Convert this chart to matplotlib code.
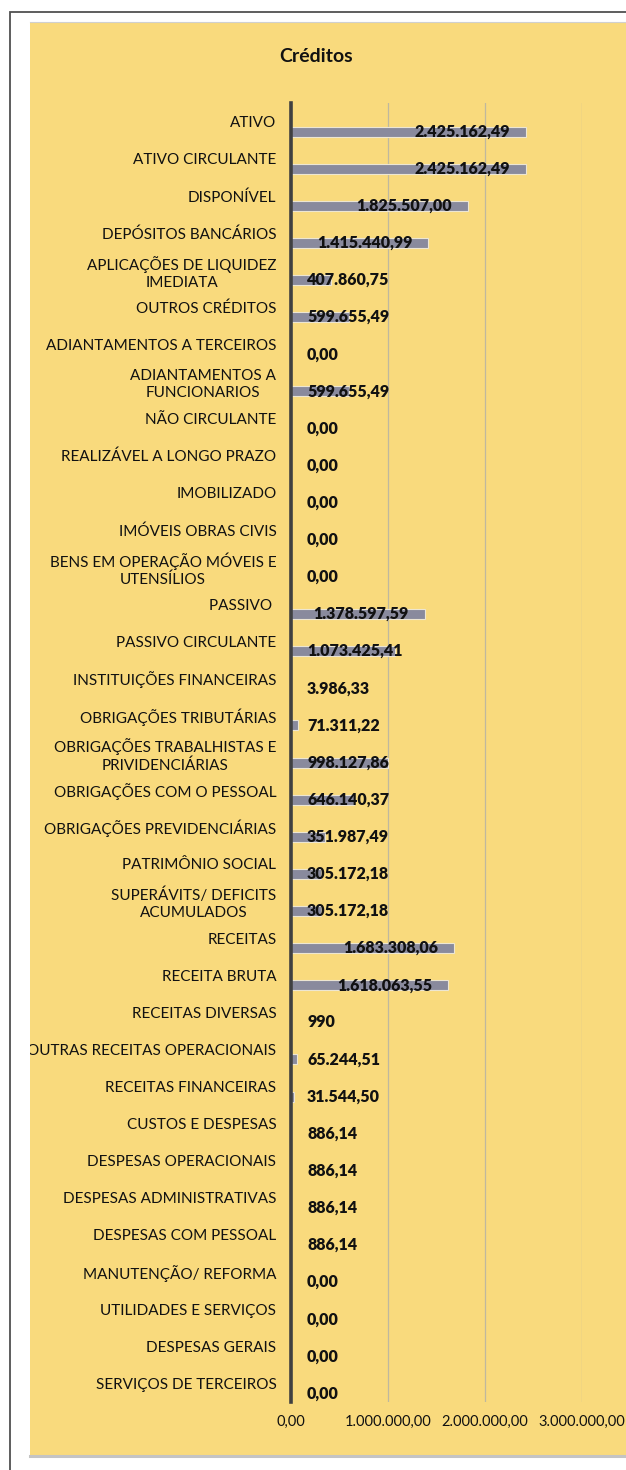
import matplotlib
matplotlib.use("Agg")
import matplotlib.pyplot as plt
from matplotlib.patches import Rectangle
from matplotlib.transforms import offset_copy
from matplotlib.ticker import FixedLocator, FuncFormatter

categories = [
    "ATIVO", "ATIVO CIRCULANTE", "DISPONÍVEL", "DEPÓSITOS BANCÁRIOS",
    "APLICAÇÕES DE LIQUIDEZ\nIMEDIATA", "OUTROS CRÉDITOS",
    "ADIANTAMENTOS A TERCEIROS", "ADIANTAMENTOS A\nFUNCIONARIOS",
    "NÃO CIRCULANTE", "REALIZÁVEL A LONGO PRAZO", "IMOBILIZADO",
    "IMÓVEIS OBRAS CIVIS", "BENS EM OPERAÇÃO MÓVEIS E\nUTENSÍLIOS",
    "PASSIVO ", "PASSIVO CIRCULANTE", "INSTITUIÇÕES FINANCEIRAS",
    "OBRIGAÇÕES TRIBUTÁRIAS", "OBRIGAÇÕES TRABALHISTAS E\nPRIVIDENCIÁRIAS",
    "OBRIGAÇÕES COM O PESSOAL", "OBRIGAÇÕES PREVIDENCIÁRIAS",
    "PATRIMÔNIO SOCIAL", "SUPERÁVITS/ DEFICITS\nACUMULADOS", "RECEITAS",
    "RECEITA BRUTA", "RECEITAS DIVERSAS", "OUTRAS RECEITAS OPERACIONAIS",
    "RECEITAS FINANCEIRAS", "CUSTOS E DESPESAS", "DESPESAS OPERACIONAIS",
    "DESPESAS ADMINISTRATIVAS", "DESPESAS COM PESSOAL", "MANUTENÇÃO/ REFORMA",
    "UTILIDADES E SERVIÇOS", "DESPESAS GERAIS", "SERVIÇOS DE TERCEIROS",
]
values = [
    2425162.49, 2425162.49, 1825507.00, 1415440.99, 407860.75, 599655.49,
    0.0, 599655.49, 0.0, 0.0, 0.0, 0.0, 0.0,
    1378597.59, 1073425.41, 3986.33, 71311.22, 998127.86, 646140.37,
    351987.49, 305172.18, 305172.18, 1683308.06, 1618063.55, 990.0,
    65244.51, 31544.50, 886.14, 886.14, 886.14, 886.14, 0.0, 0.0, 0.0, 0.0,
]
value_labels = [
    "2.425.162,49", "2.425.162,49", "1.825.507,00", "1.415.440,99", "407.860,75",
    "599.655,49", "0,00", "599.655,49", "0,00", "0,00", "0,00", "0,00", "0,00",
    "1.378.597,59", "1.073.425,41", "3.986,33", "71.311,22", "998.127,86",
    "646.140,37", "351.987,49", "305.172,18", "305.172,18", "1.683.308,06",
    "1.618.063,55", "990", "65.244,51", "31.544,50", "886,14", "886,14",
    "886,14", "886,14", "0,00", "0,00", "0,00", "0,00",
]
x_ticks = [0, 1000000, 2000000, 3000000]
x_tick_labels = ["0,00", "1.000.000,00", "2.000.000,00", "3.000.000,00"]
title = "Créditos"

W, H = 626, 1470
fig = plt.figure(figsize=(W / 100, H / 100), dpi=100)
fig.patch.set_facecolor("white")

YELLOW = "#F9DA7D"
BAR = "#898A9D"
TXT = "#111111"

# outer border (cropped at right/bottom)
fig.add_artist(Rectangle((10 / W, -0.1), 2, 1 - 12 / H + 0.1, transform=fig.transFigure,
                         facecolor="none", edgecolor="#505050", linewidth=1.3, zorder=-20))
# yellow plot area
yellow = Rectangle((30 / W, 1 - 1455 / H), 2, (1455 - 22) / H, transform=fig.transFigure,
                   facecolor=YELLOW, edgecolor="none", zorder=-10)
fig.add_artist(yellow)
fig.add_artist(plt.Line2D([30 / W, 1], [1 - 1456 / H] * 2, transform=fig.transFigure,
                          color="#C4C4C4", linewidth=2.2, zorder=-5))
fig.add_artist(plt.Line2D([30 / W, 1], [1 - 22 / H] * 2, transform=fig.transFigure,
                          color="#D0D0D0", linewidth=0.8, zorder=-5))

ax_left, ax_right = 291 / W, 582 / W
ax_top, ax_bot = 1 - 103 / H, 1 - 1402 / H
ax = fig.add_axes([ax_left, ax_bot, ax_right - ax_left, ax_top - ax_bot])
ax.set_facecolor("none")
ax.set_zorder(1)

n = len(categories)
ypos = list(range(n))
bar_off = 0.27
ax.barh([y + bar_off for y in ypos], values, height=0.27, color=BAR,
        edgecolor="#EDE6D2", linewidth=0.8, zorder=3)

ax.set_xlim(0, 3000000)
ax.set_ylim(n - 0.5, -0.5)
ax.xaxis.set_major_locator(FixedLocator(x_ticks))
ax.xaxis.set_major_formatter(FuncFormatter(lambda v, p: x_tick_labels[x_ticks.index(int(round(v)))]
                                           if int(round(v)) in x_ticks else ""))
ax.set_yticks(ypos)
ax.set_yticklabels(categories, fontfamily="Lato", fontsize=11, color=TXT, linespacing=1.25)
for lab in ax.get_yticklabels():
    lab.set_multialignment("center")
    lab.set_clip_path(yellow)
for lab in ax.get_xticklabels():
    lab.set_fontfamily("Lato")
    lab.set_fontsize(10.5)
    lab.set_color(TXT)
ax.tick_params(axis="y", length=0, pad=10.5)
ax.tick_params(axis="x", length=0, pad=9)
ax.grid(axis="x", color="#BFB89E", linewidth=0.9, zorder=0)
ax.set_axisbelow(True)
for s in ["top", "right", "bottom"]:
    ax.spines[s].set_visible(False)
ax.spines["left"].set_color("#404040")
ax.spines["left"].set_linewidth(2.6)
ax.spines["left"].set_zorder(5)

fig.text(316 / W, 1 - 56 / H, title, ha="center", va="center", fontfamily="Lato",
         fontweight="bold", fontsize=14, color=TXT)

# value labels: inside end, clamped to start near the axis
tr_in = offset_copy(ax.transData, fig=fig, x=-16, y=0, units="dots")
tr_left = offset_copy(ax.transData, fig=fig, x=16, y=0, units="dots")
texts = []
for y, v, s in zip(ypos, values, value_labels):
    t = ax.text(v, y + bar_off, s, transform=tr_in, ha="right", va="center",
                fontfamily="Lato", fontweight="heavy", fontsize=11.5, color=TXT, zorder=6)
    texts.append(t)
fig.canvas.draw()
r = fig.canvas.get_renderer()
x0_disp = ax.transData.transform((0, 0))[0]
for t, y in zip(texts, ypos):
    bb = t.get_window_extent(r)
    if bb.x0 < x0_disp + 16:
        t.set_transform(tr_left)
        t.set_x(0)
        t.set_ha("left")

fig.savefig("out.png", dpi=100, facecolor=fig.get_facecolor())
